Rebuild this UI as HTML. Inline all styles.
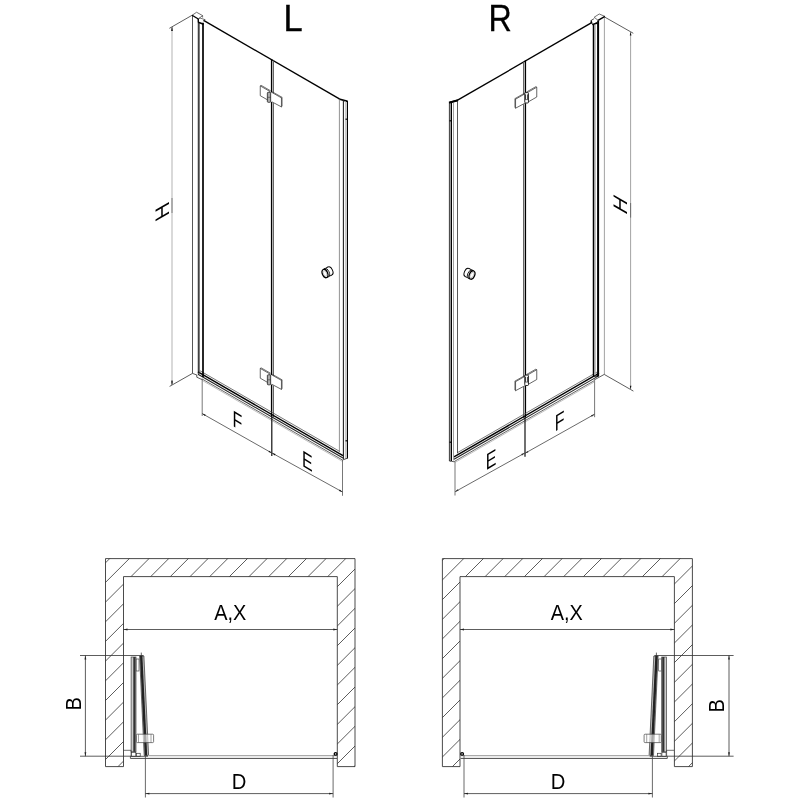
<!DOCTYPE html>
<html><head><meta charset="utf-8"><title>L / R</title>
<style>
html,body{margin:0;padding:0;background:#fff;}
body{width:800px;height:800px;overflow:hidden;}
svg{display:block;will-change:transform;}
text{font-family:"Liberation Sans",sans-serif;fill:#000;}
</style></head><body>
<svg width="800" height="800" viewBox="0 0 800 800">
<rect width="800" height="800" fill="#fff"/>
<defs>

<g id="hinge" fill="#fff" stroke="#333" stroke-width="0.75" stroke-linejoin="round">
<path d="M0 0.4 L9.75 6 L9.75 15.8 L0 10.2 Z"/>
<path d="M0 0.4 L0.8 -0.2 L10.4 5.3" fill="none" stroke-width="0.7"/>
<path d="M10.3 6.4 L21.2 12.4 L21.2 21.4 L10.3 15.9 Z" stroke="none"/>
<path d="M11.6 6.9 L21.2 12.4 L21.2 21.4 L11.6 16.3"/>
<path d="M11.9 6.2 L21.8 11.8 L21.2 12.4 M21.8 11.8 V20.8 L21.2 21.4" fill="none" stroke-width="0.7"/>
<rect x="7.1" y="6.8" width="3.3" height="10" rx="0.8" fill="#aaa" stroke="#222" stroke-width="0.8"/>
<path d="M7.1 11.8H10.4" stroke-width="0.6"/>
</g>

<g id="hingeR" fill="#fff" stroke="#333" stroke-width="0.75" stroke-linejoin="round">
<path d="M0 0.4 L9.75 6 L9.75 15.8 L0 10.2 Z"/>
<path d="M0 0.4 L0.8 -0.2 L10.4 5.3" fill="none" stroke-width="0.7"/>
<path d="M10.3 6.4 L21.2 12.4 L21.2 21.4 L10.3 15.9 Z" stroke="none"/>
<path d="M11.6 6.9 L21.2 12.4 L21.2 21.4 L11.6 16.3"/>
<path d="M11.9 6.2 L21.8 11.8 L21.2 12.4 M21.8 11.8 V20.8 L21.2 21.4" fill="none" stroke-width="0.7"/>
<rect x="8.3" y="5.8" width="3.7" height="10.4" rx="0.9" fill="#fff" stroke="#111" stroke-width="0.9"/>
<path d="M11.2 7.6V12.6M9.1 7.6V12.6" stroke="#222" stroke-width="0.9"/>
<path d="M8.3 12.8H12" stroke-width="0.7"/>
</g>

<g id="knob" fill="#fff" stroke="#000">
<ellipse cx="4.9" cy="-2.5" rx="2.7" ry="4.4" transform="rotate(-24 4.9 -2.5)" stroke-width="1.0"/>
<path d="M-1.9 -3.9 L3 -6.5 L6.8 1.5 L1.9 4 Z" stroke="none"/>
<path d="M-1.9 -3.9 L3 -6.5 M1.9 4 L6.8 1.5" stroke-width="0.9"/>
<ellipse cx="1.5" cy="-0.8" rx="2.7" ry="4.4" transform="rotate(-24 1.5 -0.8)" stroke-width="0.8"/>
<ellipse cx="0" cy="0" rx="2.7" ry="4.4" transform="rotate(-24)" stroke-width="1.3"/>
<ellipse cx="0" cy="0" rx="1.5" ry="3.0" transform="rotate(-24)" stroke="#888" stroke-width="0.4"/>
</g>

<g id="profL" fill="none" stroke="#000">
<path d="M192.50 15.30L192.50 373.40" stroke="#444" stroke-width="0.9"/>
<path d="M198.30 19.00L198.30 373.80" stroke="#111" stroke-width="1.0"/>
<path d="M199.50 22.60L199.50 373.80" stroke="#444" stroke-width="0.7"/>
<path d="M203.00 22.80L203.00 377.00" stroke="#000" stroke-width="1.7"/>
<path d="M192.1 15.25L196.6 12.25L202.6 15.6L198.1 19" stroke="#333" stroke-width="0.7"/>
<path d="M192.10 15.25L198.30 19.00" stroke="#000" stroke-width="1.4"/>
<path d="M198.3 19L200 18L205.2 19.7L203.2 21" stroke="#333" stroke-width="0.7"/>
<path d="M198.30 19.00L198.30 22.40" stroke="#000" stroke-width="1.2"/>
<path d="M198.30 22.30L203.60 24.30" stroke="#000" stroke-width="1.5"/>
<path d="M202.60 15.60L202.60 17.50" stroke="#333" stroke-width="0.7"/>
<path d="M196.80 374.80L196.80 377.40" stroke="#222" stroke-width="0.8"/>
<path d="M192.50 373.40L196.80 375.00" stroke="#333" stroke-width="0.8"/>
<path d="M197.00 377.30L203.00 380.00" stroke="#333" stroke-width="0.8"/>
</g>
<g id="door" fill="none" stroke="#000">
<path d="M203.60 20.40L339.40 98.90" stroke="#000" stroke-width="1.35"/>
<path d="M339.00 99.00L347.60 101.30" stroke="#000" stroke-width="1.8"/>
<path d="M271.60 59.20L271.60 416.00" stroke="#000" stroke-width="1.4"/>
<path d="M273.50 60.50L273.50 417.00" stroke="#555" stroke-width="0.9"/>
<path d="M200.00 370.77L340.00 451.60" stroke="#555" stroke-width="0.8"/>
<path d="M198.00 371.91L343.00 455.64" stroke="#000" stroke-width="1.4"/>
<path d="M198.00 374.31L343.00 458.04" stroke="#222" stroke-width="1.1"/>
<path d="M203.00 379.50L342.50 460.05" stroke="#555" stroke-width="0.9"/>
<path d="M203.00 380.90L342.50 461.45" stroke="#999" stroke-width="0.6"/>
</g>
<g id="sealL" fill="none" stroke="#000">
<path d="M339.40 99.20L339.40 452.00" stroke="#777" stroke-width="0.8"/>
<path d="M343.40 100.20L343.40 459.00" stroke="#222" stroke-width="1.1"/>
<path d="M345.40 101.00L345.40 459.00" stroke="#aaa" stroke-width="0.7"/>
<path d="M347.40 101.00L347.40 458.60" stroke="#000" stroke-width="1.2"/>
<path d="M346.20 118.50L346.20 120.00" stroke="#000" stroke-width="1.2"/>
<path d="M346.20 440.00L346.20 441.50" stroke="#000" stroke-width="1.2"/>
<path d="M342.50 460.00L347.50 458.20" stroke="#222" stroke-width="0.8"/>
</g>
</defs>
<use href="#door"/>
<use href="#profL"/>
<use href="#sealL"/>
<use href="#hinge" x="260.25" y="85.5"/>
<use href="#hinge" x="260.25" y="368"/>
<use href="#knob" x="325" y="273.5"/>
<g transform="translate(797 1.3) scale(-1 1)">
<use href="#door"/>
<use href="#hingeR" x="260.25" y="85.5"/>
<use href="#hingeR" x="260.25" y="368"/>
<use href="#knob" x="325" y="273.7"/>
</g>
<g fill="none" stroke="#000">
<path d="M449.40 102.30L449.40 461.00" stroke="#222" stroke-width="0.9"/>
<path d="M451.30 102.00L451.30 461.00" stroke="#000" stroke-width="1.4"/>
<path d="M453.50 101.60L453.50 460.50" stroke="#888" stroke-width="0.8"/>
<path d="M457.50 100.40L457.50 453.30" stroke="#444" stroke-width="0.9"/>
<path d="M449.00 102.60L457.90 100.20" stroke="#000" stroke-width="1.8"/>
<path d="M450.20 120.00L450.20 121.50" stroke="#000" stroke-width="1.2"/>
<path d="M450.20 441.50L450.20 443.00" stroke="#000" stroke-width="1.2"/>
<path d="M449.40 461.00L451.50 461.30" stroke="#222" stroke-width="0.9"/>
<path d="M451.50 461.30L455.50 462.00" stroke="#333" stroke-width="0.8"/>
</g>
<g fill="none" stroke="#000">
<rect x="593.9" y="25" width="1.8" height="350.5" fill="#aaa" stroke="none"/>
<path d="M593.40 24.30L593.40 376.00" stroke="#000" stroke-width="1.3"/>
<path d="M598.10 20.40L598.10 376.20" stroke="#000" stroke-width="2.0"/>
<path d="M604.40 16.60L604.40 374.30" stroke="#999" stroke-width="0.9"/>
<path d="M598.1 20.4L594.2 17.2L599.25 14L604.9 16.4" stroke="#333" stroke-width="0.7" fill="#fff"/>
<path d="M598.10 20.40L604.90 16.40" stroke="#000" stroke-width="1.4"/>
<path d="M594.2 18.6L591.2 20.4L592.6 24.6L597.4 22" stroke="#222" stroke-width="0.8" fill="#fff"/>
<path d="M591.20 20.40L591.20 23.50" stroke="#000" stroke-width="1.2"/>
<path d="M592.40 24.60L597.60 23.00" stroke="#000" stroke-width="1.4"/>
<path d="M604.50 374.25L595.00 379.50" stroke="#333" stroke-width="0.8"/>
<path d="M593.40 376.00L598.30 376.20" stroke="#000" stroke-width="1.2"/>
</g>
<g fill="none" stroke="#444" stroke-width="0.8">
<path d="M192.10 15.25L169.40 28.30" stroke="#333" stroke-width="0.8"/>
<path d="M192.50 373.40L169.60 386.40" stroke="#333" stroke-width="0.8"/>
<path d="M172.00 27.00L172.00 385.00" stroke="#aaa" stroke-width="0.9"/>
<path d="M172.00 198.00L172.00 213.00" stroke="#777" stroke-width="0.9"/>
<path d="M172.00 27.00L172.00 31.00" stroke="#555" stroke-width="0.9"/>
<path d="M172.00 380.00L172.00 385.00" stroke="#555" stroke-width="0.9"/>
<path d="M604.40 16.90L633.30 33.30" stroke="#333" stroke-width="0.8"/>
<path d="M604.40 374.50L633.40 391.10" stroke="#333" stroke-width="0.8"/>
<path d="M630.60 31.50L630.60 389.50" stroke="#999" stroke-width="0.9"/>
<path d="M630.60 203.00L630.60 217.60" stroke="#666" stroke-width="0.9"/>
<path d="M202.20 378.50L202.20 416.00" stroke="#555" stroke-width="0.8"/>
<path d="M271.80 416.00L271.80 456.00" stroke="#111" stroke-width="1.2"/>
<path d="M342.50 460.00L342.50 495.80" stroke="#555" stroke-width="0.8"/>
<path d="M202.20 413.60L272.00 453.11" stroke="#444" stroke-width="0.8"/>
<path d="M272.00 453.00L342.50 492.00" stroke="#444" stroke-width="0.8"/>
<path d="M202.20 413.60L205.73 414.68L204.94 416.07Z" fill="#111" stroke="none"/>
<path d="M272.00 453.10L268.47 452.02L269.26 450.63Z" fill="#111" stroke="none"/>
<path d="M272.00 453.00L275.54 454.04L274.76 455.44Z" fill="#111" stroke="none"/>
<path d="M342.50 492.00L338.96 490.96L339.74 489.56Z" fill="#111" stroke="none"/>
<path d="M594.60 414.20L591.85 416.66L591.07 415.26Z" fill="#111" stroke="none"/>
<path d="M524.80 453.40L527.55 450.94L528.33 452.34Z" fill="#111" stroke="none"/>
<path d="M524.80 453.00L522.04 455.45L521.26 454.05Z" fill="#111" stroke="none"/>
<path d="M455.00 491.80L457.76 489.35L458.54 490.75Z" fill="#111" stroke="none"/>
<path d="M172.00 27.30L172.80 30.90L171.20 30.90Z" fill="#111" stroke="none"/>
<path d="M172.00 384.80L171.20 381.20L172.80 381.20Z" fill="#111" stroke="none"/>
<path d="M630.60 31.80L631.40 35.40L629.80 35.40Z" fill="#111" stroke="none"/>
<path d="M630.60 389.40L629.80 385.80L631.40 385.80Z" fill="#111" stroke="none"/>
<path d="M594.60 378.50L594.60 417.20" stroke="#555" stroke-width="0.8"/>
<path d="M525.00 417.00L525.00 456.80" stroke="#111" stroke-width="1.2"/>
<path d="M455.00 462.00L455.00 495.50" stroke="#aaa" stroke-width="1.6"/>
<path d="M594.60 414.20L524.80 453.40" stroke="#444" stroke-width="0.8"/>
<path d="M524.80 453.00L455.00 491.80" stroke="#444" stroke-width="0.8"/>
</g>
<text font-size="37.6" stroke="#000" stroke-width="0.4" transform="translate(283.6 30.75) scale(0.915 1)">L</text>
<text font-size="37.6" stroke="#000" stroke-width="0.25" transform="translate(488.5 30.75) scale(0.86 1)">R</text>
<text font-size="19.6" transform="matrix(0 -1.06 1 -0.577 168.5 215.3)">H</text>
<text font-size="19.6" transform="matrix(0 -1.06 1 0.577 626.74 215.67)">H</text>
<text font-size="22.8" transform="matrix(0.70 0.427 0 1 232.5 425.7)">F</text>
<text font-size="22.8" transform="matrix(0.70 0.427 0 1 302 465.7)">E</text>
<text font-size="22.8" transform="matrix(0.70 -0.427 0 1 485.74 470.5)">E</text>
<text font-size="22.8" transform="matrix(0.70 -0.427 0 1 554.74 431.7)">F</text>
<defs>
<clipPath id="cw"><path d="M105.5 558.6H355V766.6H337.3V576.6H123.5V766.6H105.5Z M442.4 558.6H692.4V766.6H674.4V576.6H460V766.6H442.4Z"/></clipPath>
</defs>
<g clip-path="url(#cw)" stroke="#333" stroke-width="0.8" fill="none">
<path d="M-190.8 800L69.2 540M-171.1 800L88.9 540M-151.4 800L108.6 540M-131.7 800L128.3 540M-112.1 800L147.9 540M-92.4 800L167.6 540M-72.7 800L187.3 540M-53.1 800L206.9 540M-33.4 800L226.6 540M-13.7 800L246.3 540M6.0 800L266.0 540M25.6 800L285.6 540M45.3 800L305.3 540M65.0 800L325.0 540M84.6 800L344.6 540M104.3 800L364.3 540M124.0 800L384.0 540M143.6 800L403.6 540M163.3 800L423.3 540M183.0 800L443.0 540M202.7 800L462.7 540M222.3 800L482.3 540M242.0 800L502.0 540M261.7 800L521.7 540M281.3 800L541.3 540M301.0 800L561.0 540M320.7 800L580.7 540M340.3 800L600.3 540M360.0 800L620.0 540M379.7 800L639.7 540M399.4 800L659.4 540M419.0 800L679.0 540M438.7 800L698.7 540M458.4 800L718.4 540M478.0 800L738.0 540M497.7 800L757.7 540M517.4 800L777.4 540M537.0 800L797.0 540M556.7 800L816.7 540M576.4 800L836.4 540M596.1 800L856.1 540M615.7 800L875.7 540M635.4 800L895.4 540M655.1 800L915.1 540M674.7 800L934.7 540M694.4 800L954.4 540"/>
</g>
<path d="M105.5 558.6H355V766.6H337.3V576.6H123.5V766.6H105.5Z M442.4 558.6H692.4V766.6H674.4V576.6H460V766.6H442.4Z" fill="none" stroke="#2a2a2a" stroke-width="0.85"/>
<defs><g id="pdoor" fill="none" stroke="#222" stroke-width="0.7">
<rect x="131.1" y="657" width="4.9" height="94.8" fill="#ccc" stroke="#444" stroke-width="0.7"/>
<path d="M134.40 657.00L134.40 751.80" stroke="#333" stroke-width="2.2"/>
<rect x="136.2" y="659" width="2.8" height="12" fill="#fff" stroke="#333" stroke-width="0.6"/>
<path d="M139.6 656L143.9 656L148.6 755.5L144.2 755.5Z" fill="#bbb" stroke="#333" stroke-width="0.7"/>
<path d="M141.20 656.00L146.00 755.50" stroke="#222" stroke-width="2.4"/>
<path d="M141.30 652.60L141.30 656.00" stroke="#222" stroke-width="0.7"/>
<rect x="136.4" y="734.2" width="17.2" height="8.4" rx="1" fill="#fff" fill-opacity="0.6" stroke="#444" stroke-width="0.7"/>
<path d="M138.50 734.20L138.50 742.60" stroke="#666" stroke-width="0.6"/>
<path d="M151.00 734.20L151.00 742.60" stroke="#666" stroke-width="0.6"/>
<path d="M123.6 750.3H131.1V756.2" stroke="#333" stroke-width="0.7"/>
<rect x="131.6" y="752.3" width="4.2" height="4" fill="#fff" stroke="#333" stroke-width="0.7"/>
<rect x="136.6" y="753.3" width="3.6" height="3" fill="#fff" stroke="#333" stroke-width="0.7"/>
<path d="M148.00 755.60L337.00 755.60" stroke="#aaa" stroke-width="1.3"/>
<path d="M130.40 758.40L337.00 758.40" stroke="#333" stroke-width="0.9"/>
<path d="M130.40 756.30L130.40 758.40" stroke="#333" stroke-width="0.8"/>
<path d="M130.40 756.30L148.00 756.30" stroke="#333" stroke-width="0.8"/>
<ellipse cx="335.6" cy="753.9" rx="1.4" ry="1.2" fill="#fff" stroke="#000" stroke-width="1.3"/>
</g></defs>
<use href="#pdoor"/>
<g transform="translate(797.7 0) scale(-1 1)"><use href="#pdoor"/></g>
<g fill="none" stroke="#333" stroke-width="0.8">
<path d="M123.50 629.50L337.30 629.50" stroke="#333" stroke-width="0.8"/>
<path d="M123.5 629.5L127.5 628.6L127.5 630.4Z" fill="#222" stroke="none"/>
<path d="M337.3 629.5L333.3 628.6L333.3 630.4Z" fill="#222" stroke="none"/>
<path d="M460.00 629.50L674.40 629.50" stroke="#333" stroke-width="0.8"/>
<path d="M460 629.5L464 628.6L464 630.4Z" fill="#222" stroke="none"/>
<path d="M674.4 629.5L670.4 628.6L670.4 630.4Z" fill="#222" stroke="none"/>
<path d="M80.00 655.50L143.50 655.50" stroke="#333" stroke-width="0.8"/>
<path d="M80.00 756.20L131.00 756.20" stroke="#333" stroke-width="0.8"/>
<path d="M85.40 655.50L85.40 756.20" stroke="#333" stroke-width="0.8"/>
<path d="M85.4 655.5L84.5 659.5L86.30000000000001 659.5Z" fill="#222" stroke="none"/>
<path d="M85.4 756.2L84.5 752.2L86.30000000000001 752.2Z" fill="#222" stroke="none"/>
<path d="M654.50 655.50L733.60 655.50" stroke="#333" stroke-width="0.8"/>
<path d="M667.00 756.20L733.60 756.20" stroke="#333" stroke-width="0.8"/>
<path d="M729.00 655.50L729.00 756.20" stroke="#333" stroke-width="0.8"/>
<path d="M729 655.5L728.1 659.5L729.9 659.5Z" fill="#222" stroke="none"/>
<path d="M729 756.2L728.1 752.2L729.9 752.2Z" fill="#222" stroke="none"/>
<path d="M145.40 756.00L145.40 797.50" stroke="#444" stroke-width="0.8"/>
<path d="M333.10 755.00L333.10 797.50" stroke="#444" stroke-width="0.8"/>
<path d="M145.40 793.60L333.10 793.60" stroke="#333" stroke-width="0.8"/>
<path d="M145.4 793.6L149.4 792.7L149.4 794.5Z" fill="#222" stroke="none"/>
<path d="M333.1 793.6L329.1 792.7L329.1 794.5Z" fill="#222" stroke="none"/>
<path d="M464.00 755.00L464.00 797.50" stroke="#444" stroke-width="0.8"/>
<path d="M652.40 756.00L652.40 797.50" stroke="#444" stroke-width="0.8"/>
<path d="M464.00 793.60L652.40 793.60" stroke="#333" stroke-width="0.8"/>
<path d="M464 793.6L468 792.7L468 794.5Z" fill="#222" stroke="none"/>
<path d="M652.4 793.6L648.4 792.7L648.4 794.5Z" fill="#222" stroke="none"/>
</g>
<text font-size="22.1" transform="translate(214.2 620) scale(0.9 1)">A,X</text>
<text font-size="22.1" transform="translate(550.7 620) scale(0.9 1)">A,X</text>
<text font-size="22.5" transform="translate(231.7 789.3) scale(0.9 1)">D</text>
<text font-size="22.5" transform="translate(550.7 789.3) scale(0.9 1)">D</text>
<text font-size="21.8" transform="translate(81 710.6) rotate(-90) scale(0.92 1)">B</text>
<text font-size="21.8" transform="translate(724.4 712.6) rotate(-90) scale(0.92 1)">B</text>
</svg></body></html>
